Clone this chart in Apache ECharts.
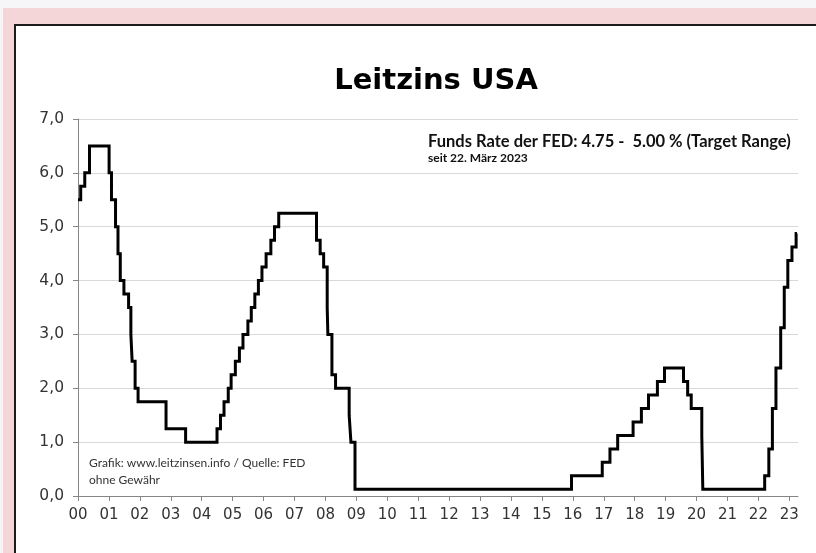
<!DOCTYPE html>
<html>
<head>
<meta charset="utf-8">
<title>Leitzins USA</title>
<script src="https://cdn.jsdelivr.net/npm/echarts@6/dist/echarts.min.js"></script>
<style>
  html, body { margin: 0; padding: 0; width: 816px; height: 553px; overflow: hidden; background: #f6f6f8; }
  #band { position: absolute; left: 3px; top: 8px; right: 0; bottom: 0; background: #f5d6d8; }
  #card { position: absolute; left: 14px; top: 24px; right: -4px; bottom: -4px; background: #ffffff;
          border-left: 2px solid #1c1c1c; border-top: 2px solid #1c1c1c; }
  #chart { position: absolute; left: 0; top: 0; width: 816px; height: 553px; }
</style>
</head>
<body>
<div id="band"></div>
<div id="card"></div>
<div id="chart"></div>
<script>
// Fed funds target: date of each decision and the rate valid from that day
// (target ranges after 2008 are shown at their midpoint)
const changeDates = [
  '2000-01-01', '2000-02-02', '2000-03-21', '2000-05-16',
  '2001-01-03', '2001-01-31', '2001-03-20', '2001-04-18', '2001-05-15', '2001-06-27',
  '2001-08-21', '2001-09-17', '2001-10-02', '2001-11-06', '2001-12-11',
  '2002-11-06', '2003-06-25',
  '2004-06-30', '2004-08-10', '2004-09-21', '2004-11-10', '2004-12-14',
  '2005-02-02', '2005-03-22', '2005-05-03', '2005-06-30', '2005-08-09', '2005-09-20',
  '2005-11-01', '2005-12-13',
  '2006-01-31', '2006-03-28', '2006-05-10', '2006-06-29',
  '2007-09-18', '2007-10-31', '2007-12-11',
  '2008-01-22', '2008-01-30', '2008-03-18', '2008-04-30', '2008-10-08', '2008-10-29', '2008-12-16',
  '2015-12-16', '2016-12-14',
  '2017-03-15', '2017-06-14', '2017-12-13',
  '2018-03-21', '2018-06-13', '2018-09-26', '2018-12-19',
  '2019-07-31', '2019-09-18', '2019-10-30',
  '2020-03-03', '2020-03-15',
  '2022-03-16', '2022-05-04', '2022-06-15', '2022-07-27', '2022-09-21', '2022-11-02', '2022-12-14',
  '2023-02-01', '2023-03-22', '2023-04-01'
];
const rates = [
  5.50, 5.75, 6.00, 6.50,
  6.00, 5.50, 5.00, 4.50, 4.00, 3.75,
  3.50, 3.00, 2.50, 2.00, 1.75,
  1.25, 1.00,
  1.25, 1.50, 1.75, 2.00, 2.25,
  2.50, 2.75, 3.00, 3.25, 3.50, 3.75,
  4.00, 4.25,
  4.50, 4.75, 5.00, 5.25,
  4.75, 4.50, 4.25,
  3.50, 3.00, 2.25, 2.00, 1.50, 1.00, 0.125,
  0.375, 0.625,
  0.875, 1.125, 1.375,
  1.625, 1.875, 2.125, 2.375,
  2.125, 1.875, 1.625,
  1.125, 0.125,
  0.375, 0.875, 1.625, 2.375, 3.125, 3.875, 4.375,
  4.625, 4.875, 4.875
];
const yearTicks = [2000, 2001, 2002, 2003, 2004, 2005, 2006, 2007, 2008, 2009, 2010, 2011,
                   2012, 2013, 2014, 2015, 2016, 2017, 2018, 2019, 2020, 2021, 2022, 2023];

// date string -> fractional year
function toYear(s) {
  const d = new Date(s + 'T00:00:00Z');
  const y = d.getUTCFullYear();
  const start = Date.UTC(y, 0, 1), end = Date.UTC(y + 1, 0, 1);
  return y + (d.getTime() - start) / (end - start);
}
const points = changeDates.map((s, i) => [toYear(s), rates[i]]);

const chart = echarts.init(document.getElementById('chart'), null, { renderer: 'canvas' });
const axisFont = 'DejaVu Sans, Verdana, sans-serif';
chart.setOption({
  backgroundColor: 'transparent',
  animation: false,
  grid: { left: 78, right: 18, top: 119, bottom: 57, containLabel: false },
  xAxis: {
    type: 'value',
    min: 2000, max: 2023.28,
    axisLine: { show: true, lineStyle: { color: '#868686', width: 1 } },
    axisTick: { show: true, length: 5, lineStyle: { color: '#868686' }, customValues: yearTicks },
    axisLabel: {
      customValues: yearTicks,
      formatter: v => String(Math.round(v) % 100).padStart(2, '0'),
      fontFamily: axisFont, fontSize: 15, color: '#333333', margin: 12
    },
    splitLine: { show: false }
  },
  yAxis: {
    type: 'value',
    min: 0, max: 7, interval: 1,
    axisLine: { show: true, lineStyle: { color: '#868686', width: 1 } },
    axisTick: { show: true, length: 5, lineStyle: { color: '#868686' } },
    axisLabel: {
      formatter: v => v.toFixed(1).replace('.', ','),
      fontFamily: axisFont, fontSize: 15.5, color: '#333333', margin: 14
    },
    splitLine: { show: true, lineStyle: { color: '#d9d9d9', width: 1 } }
  },
  series: [{
    type: 'line',
    step: 'end',
    data: points,
    symbol: 'none',
    lineStyle: { color: '#000000', width: 3, join: 'miter' },
    z: 5
  }],
  graphic: [
    { type: 'text', x: 436, y: 67, style: { text: 'Leitzins USA',
      fill: '#000', font: 'bold 29px DejaVu Sans, Verdana, sans-serif', textAlign: 'center' } },
    { type: 'text', x: 428, y: 133, style: { text: 'Funds Rate der FED: 4.75 -  5.00 % (Target Range)',
      fill: '#111', font: 'bold 16.5px Lato, Calibri, sans-serif' } },
    { type: 'text', x: 428, y: 152, style: { text: 'seit 22. März 2023',
      fill: '#111', font: 'bold 12px Lato, Calibri, sans-serif' } },
    { type: 'text', x: 89, y: 457, style: { text: 'Grafik: www.leitzinsen.info / Quelle: FED',
      fill: '#333', font: '12px Lato, Calibri, sans-serif' } },
    { type: 'text', x: 89, y: 474, style: { text: 'ohne Gewähr',
      fill: '#333', font: '12px Lato, Calibri, sans-serif' } }
  ]
});
</script>
</body>
</html>
